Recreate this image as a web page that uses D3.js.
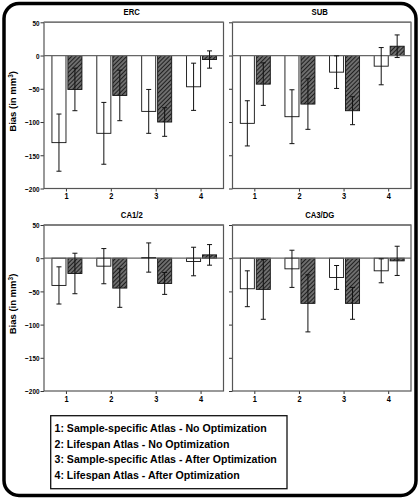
<!DOCTYPE html>
<html>
<head>
<meta charset="utf-8">
<script src="https://cdn.jsdelivr.net/npm/d3@7"></script>
<style>
  body { margin: 0; background: #fff; }
  svg { display: block; }
  text { font-family: "Liberation Sans", Arial, sans-serif; font-weight: bold; fill: #000; }
</style>
</head>
<body>
<div id="chart"></div>
<script>
// values (mm^3), error = half-length of the error bar
var groups = ["1", "2", "3", "4"];
var regions = ["ERC", "SUB", "CA1/2", "CA3/DG"];

var ercNoOpt = [-131, -117, -84, -47];
var ercNoOptErr = [43, 46.5, 33, 35.5];
var ercOpt = [-51, -60, -100, -6];
var ercOptErr = [32, 38, 21.5, 13];

var subNoOpt = [-102, -92, -25, -16];
var subNoOptErr = [34, 40.5, 24.5, 28];
var subOpt = [-43, -73, -83, 14];
var subOptErr = [32, 38, 21, 17];

var ca12NoOpt = [-41, -12, 1, -5];
var ca12NoOptErr = [28, 26.5, 22, 21.5];
var ca12Opt = [-23, -45, -38, 5];
var ca12OptErr = [30.5, 29, 16.5, 15.5];

var ca3NoOpt = [-46, -16, -29, -19];
var ca3NoOptErr = [27, 28, 18, 18];
var ca3Opt = [-47, -68, -68, -4];
var ca3OptErr = [45, 43, 24, 22];

var yTicks = [50, 0, -50, -100, -150, -200];
var legendLines = [
  "1: Sample-specific Atlas - No Optimization",
  "2: Lifespan Atlas - No Optimization",
  "3: Sample-specific Atlas - After Optimization",
  "4: Lifespan Atlas - After Optimization"
];

var panels = [
  { name: regions[0], a: ercNoOpt, ae: ercNoOptErr, b: ercOpt, be: ercOptErr, col: 0, row: 0 },
  { name: regions[1], a: subNoOpt, ae: subNoOptErr, b: subOpt, be: subOptErr, col: 1, row: 0 },
  { name: regions[2], a: ca12NoOpt, ae: ca12NoOptErr, b: ca12Opt, be: ca12OptErr, col: 0, row: 1 },
  { name: regions[3], a: ca3NoOpt, ae: ca3NoOptErr, b: ca3Opt, be: ca3OptErr, col: 1, row: 1 }
];

var W = 420, H = 500;
var colX = [[44, 223.5], [232.5, 411]];
var rowY = [[22.3, 188.5], [225, 391]];

var svg = d3.select("#chart").append("svg")
    .attr("width", W)
    .attr("height", H);

svg.append("rect").attr("width", W).attr("height", H).attr("fill", "#fff");

var defs = svg.append("defs");
var pat = defs.append("pattern")
    .attr("id", "hatch")
    .attr("patternUnits", "userSpaceOnUse")
    .attr("width", 3)
    .attr("height", 3)
    .attr("patternTransform", "rotate(45)");
pat.append("rect").attr("width", 3).attr("height", 3).attr("fill", "#6e6e6e");
pat.append("line")
    .attr("x1", 0).attr("y1", 0).attr("x2", 0).attr("y2", 3)
    .attr("stroke", "#111").attr("stroke-width", 1.7);

// lettering in the figure is horizontally condensed
function squashText(g, x, y, str, size, sx, anchor) {
  return g.append("text")
      .attr("transform", "translate(" + x + "," + y + ") scale(" + sx + ",1)")
      .attr("text-anchor", anchor || "middle")
      .style("font-size", size + "px")
      .text(str);
}

// outer rounded frame
svg.append("rect")
    .attr("x", 4).attr("y", 3.5)
    .attr("width", 412).attr("height", 492)
    .attr("rx", 15)
    .attr("fill", "none")
    .attr("stroke", "#000")
    .attr("stroke-width", 3.5);

panels.forEach(function (p) {
  var xr = colX[p.col], yr = rowY[p.row];
  var g = svg.append("g");

  var y = d3.scaleLinear().domain([-200, 50]).range([yr[1], yr[0]]);
  var x0 = d3.scaleBand().domain(groups).range(xr).paddingInner(0).paddingOuter(0);
  var x1 = d3.scaleBand().domain(["a", "b"]).range([-14.5, 15.5]).paddingInner(0.12);

  // y axis ticks
  var ya = g.append("g")
      .attr("transform", "translate(" + xr[0] + ",0)")
      .call(d3.axisLeft(y).tickValues(yTicks).tickSize(3.5));
  ya.select(".domain").remove();
  ya.selectAll(".tick line").attr("stroke", "#333");
  if (p.col === 0) {
    ya.selectAll(".tick text")
        .attr("x", null).attr("dy", null)
        .attr("transform", "translate(-4.5,2.9) scale(0.8,1)")
        .style("font-size", "8px")
        .style("font-family", "Liberation Sans, Arial, sans-serif")
        .style("font-weight", "bold")
        .attr("fill", "#000");
  } else {
    ya.selectAll(".tick text").remove();
  }

  // x axis ticks
  var xa = g.append("g")
      .attr("transform", "translate(0," + yr[1] + ")")
      .call(d3.axisBottom(x0).tickSize(3));
  xa.select(".domain").remove();
  xa.selectAll(".tick line").attr("stroke", "#333");
  xa.selectAll(".tick text")
      .attr("y", null).attr("dy", null)
      .attr("transform", "translate(0,10.8) scale(0.85,1)")
      .style("font-size", "8.7px")
      .style("font-family", "Liberation Sans, Arial, sans-serif")
      .style("font-weight", "bold")
      .attr("fill", "#000");

  // panel frame
  g.append("rect")
      .attr("x", xr[0]).attr("y", yr[0])
      .attr("width", xr[1] - xr[0]).attr("height", yr[1] - yr[0])
      .attr("fill", "none")
      .attr("stroke", "#555")
      .attr("stroke-width", 1.2);
  g.append("line")
      .attr("x1", xr[0]).attr("x2", xr[1])
      .attr("y1", yr[0]).attr("y2", yr[0])
      .attr("stroke", "#777").attr("stroke-width", 1.6);

  var rows = groups.map(function (k, i) {
    return [
      { key: k, s: "a", v: p.a[i], e: p.ae[i] },
      { key: k, s: "b", v: p.b[i], e: p.be[i] }
    ];
  });
  var flat = [].concat.apply([], rows);

  g.selectAll(".bar")
      .data(flat)
      .enter().append("rect")
      .attr("x", function (d) { return x0(d.key) + x0.bandwidth() / 2 + x1(d.s); })
      .attr("y", function (d) { return y(Math.max(0, d.v)); })
      .attr("width", x1.bandwidth())
      .attr("height", function (d) { return Math.abs(y(d.v) - y(0)); })
      .attr("fill", function (d) { return d.s === "a" ? "#fff" : "url(#hatch)"; })
      .attr("stroke", "#111")
      .attr("stroke-width", 0.9);

  // zero line
  g.append("line")
      .attr("x1", xr[0]).attr("x2", xr[1])
      .attr("y1", y(0)).attr("y2", y(0))
      .attr("stroke", "#666").attr("stroke-width", 1.2);

  // error bars
  var eb = g.selectAll(".err")
      .data(flat)
      .enter().append("g")
      .attr("transform", function (d) {
        return "translate(" + (x0(d.key) + x0.bandwidth() / 2 + x1(d.s) + x1.bandwidth() / 2) + ",0)";
      });
  eb.append("line")
      .attr("y1", function (d) { return y(d.v + d.e); })
      .attr("y2", function (d) { return y(d.v - d.e); })
      .attr("stroke", "#111").attr("stroke-width", 1);
  eb.append("line")
      .attr("x1", -2.5).attr("x2", 2.5)
      .attr("y1", function (d) { return y(d.v + d.e); })
      .attr("y2", function (d) { return y(d.v + d.e); })
      .attr("stroke", "#111").attr("stroke-width", 1);
  eb.append("line")
      .attr("x1", -2.5).attr("x2", 2.5)
      .attr("y1", function (d) { return y(d.v - d.e); })
      .attr("y2", function (d) { return y(d.v - d.e); })
      .attr("stroke", "#111").attr("stroke-width", 1);

  // title
  squashText(g, (xr[0] + xr[1]) / 2 - 2, yr[0] - 7.2, p.name, 9, 0.86);

  // y label
  if (p.col === 0) {
    var lab = g.append("text")
        .attr("transform", "translate(16," + ((yr[0] + yr[1]) / 2 - 4) + ") rotate(-90)")
        .attr("text-anchor", "middle")
        .style("font-size", "9.5px");
    lab.append("tspan").text("Bias (in mm");
    lab.append("tspan").attr("dy", -3.5).style("font-size", "6.5px").text("3");
    lab.append("tspan").attr("dy", 3.5).text(")");
  }
});

// legend
var lg = svg.append("g");
lg.append("rect")
    .attr("x", 50.7).attr("y", 415.7)
    .attr("width", 236.3).attr("height", 73)
    .attr("fill", "#fff")
    .attr("stroke", "#111")
    .attr("stroke-width", 1.3);
legendLines.forEach(function (t, i) {
  squashText(lg, 54.5, 432.2 + i * 15.6, t, 11.4, 0.93, "start");
});
</script>
</body>
</html>
